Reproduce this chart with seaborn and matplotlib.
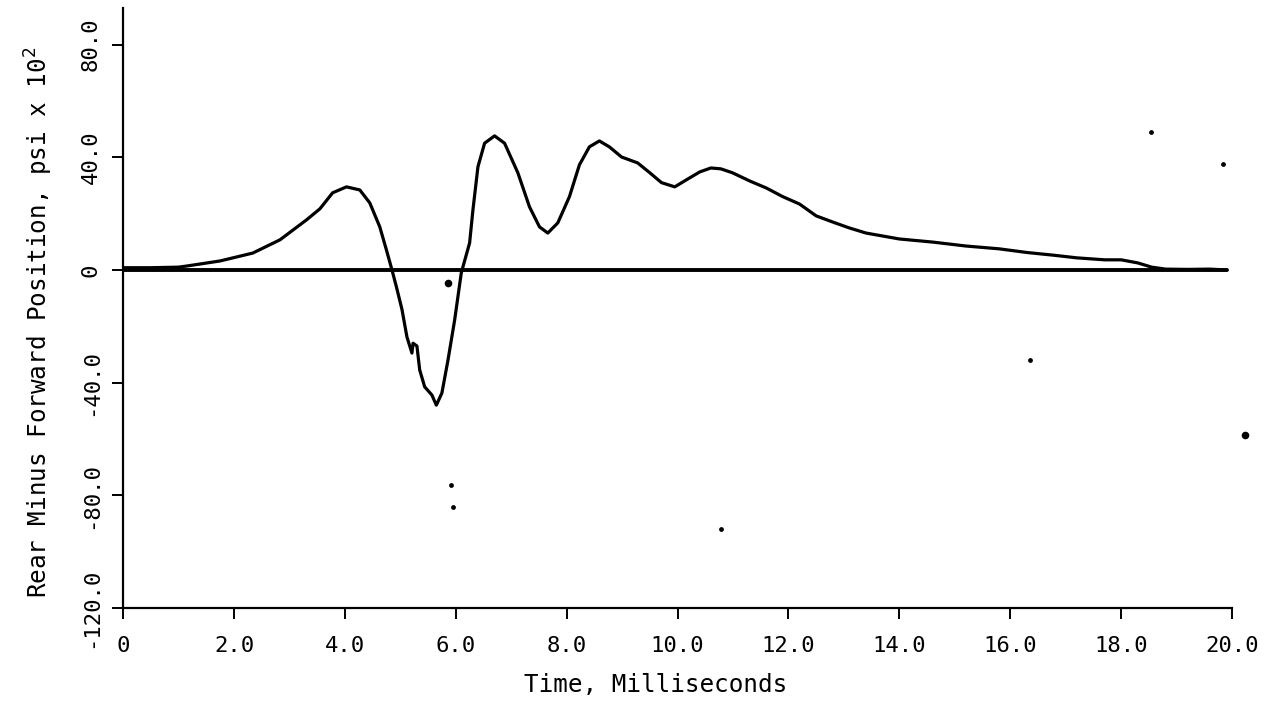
import numpy as np
import pandas as pd
import matplotlib
matplotlib.use("Agg")
import matplotlib.pyplot as plt
import seaborn as sns

# trace (time in ms, psi x 100)
time_ms = [0.0, 0.5, 1.0, 1.15, 1.75, 2.34, 2.83, 3.31, 3.55, 3.78,
           4.03, 4.27, 4.45, 4.63, 4.75, 4.85, 4.93, 5.03, 5.12, 5.21,
           5.23, 5.30, 5.35, 5.44, 5.57, 5.65, 5.75, 5.86, 5.98, 6.10,
           6.25, 6.31, 6.40, 6.52, 6.70, 6.88, 7.12, 7.33, 7.51, 7.66,
           7.84, 8.05, 8.23, 8.41, 8.59, 8.77, 8.99, 9.28, 9.50, 9.71,
           9.95, 10.16, 10.40, 10.60, 10.78, 10.99, 11.30, 11.60, 11.90, 12.20,
           12.50, 12.80, 13.10, 13.40, 14.00, 14.60, 15.20, 15.80, 16.30, 16.80,
           17.20, 17.70, 18.00, 18.30, 18.55, 18.80, 19.20, 19.60, 19.90]
pressure = [0.8, 0.8, 1.0, 1.4, 3.2, 6.0, 10.7, 17.8, 21.7, 27.4,
            29.5, 28.4, 23.8, 15.3, 7.1, 0.0, -6.0, -14.0, -23.8, -29.5,
            -26.0, -27.0, -35.5, -41.5, -44.4, -48.0, -43.7, -32.0, -17.8, -1.0,
            9.6, 21.3, 36.6, 45.0, 47.6, 45.0, 34.5, 22.4, 15.3, 13.1,
            16.7, 26.0, 37.3, 43.7, 45.8, 43.7, 40.1, 38.0, 34.5, 31.0,
            29.5, 32.0, 34.8, 36.2, 35.9, 34.5, 31.6, 29.1, 26.0, 23.4,
            19.2, 17.0, 14.9, 13.1, 11.0, 9.9, 8.5, 7.5, 6.2, 5.2,
            4.3, 3.6, 3.6, 2.5, 1.0, 0.3, 0.2, 0.3, 0.0]

# zero reference line drawn by the recorder
base_t = [0.0, 19.9]
base_p = [0.0, 0.0]

# stray specks on the scan
speck_t = [5.91, 5.95, 10.79, 18.54, 19.84, 16.35]
speck_p = [-76.4, -84.2, -92.0, 49.0, 37.6, -32.0]
blot_t = [5.86, 20.24]
blot_p = [-4.6, -58.6]

x_ticks = [0, 2, 4, 6, 8, 10, 12, 14, 16, 18, 20]
x_labels = ["0", "2.0", "4.0", "6.0", "8.0", "10.0", "12.0",
            "14.0", "16.0", "18.0", "20.0"]
y_ticks = [-120, -80, -40, 0, 40, 80]
y_labels = ["-120.0", "-80.0", "-40.0", "0", "40.0", "80.0"]

sns.set_theme(style="ticks")
plt.rcParams['font.family'] = ['DejaVu Sans Mono', 'DejaVu Sans']

trace = pd.DataFrame({"t": time_ms, "p": pressure})

fig = plt.figure(figsize=(12.83, 7.06), dpi=100)
ax = fig.add_axes([0.0959, 0.1388, 0.8644, 0.8499])

sns.lineplot(data=trace, x="t", y="p", ax=ax, color="black",
             linewidth=2.3, sort=False, estimator=None,
             solid_joinstyle="round", solid_capstyle="round")
sns.lineplot(x=base_t, y=base_p, ax=ax, color="black", linewidth=2.8,
             estimator=None)
sns.scatterplot(x=speck_t, y=speck_p, ax=ax, color="black", s=12,
                linewidth=0, clip_on=False)
sns.scatterplot(x=blot_t, y=blot_p, ax=ax, color="black", s=30,
                linewidth=0, clip_on=False)

ax.set_xlim(0, 20)
ax.set_ylim(-120, 93)
ax.set_xticks(x_ticks)
ax.set_xticklabels(x_labels)
ax.set_yticks(y_ticks)
ax.set_yticklabels(y_labels, rotation=90, va="center")

ax.tick_params(axis="both", direction="out", length=8, width=1.4,
               labelsize=16, colors="black")
ax.tick_params(axis="x", pad=12)
ax.tick_params(axis="y", pad=8)

for side in ["top", "right"]:
    ax.spines[side].set_visible(False)
for side in ["left", "bottom"]:
    ax.spines[side].set_linewidth(1.6)
    ax.spines[side].set_color("black")

ax.set_xlabel("Time, Milliseconds", fontsize=17.5, color="black")
ax.xaxis.set_label_coords(0.48, -0.108)
ax.set_ylabel("Rear Minus Forward Position, psi x 10$^2$", fontsize=17.5,
              color="black")
ax.yaxis.set_label_coords(-0.061, 0.477)

fig.savefig("out.png", dpi=100, facecolor="white")
